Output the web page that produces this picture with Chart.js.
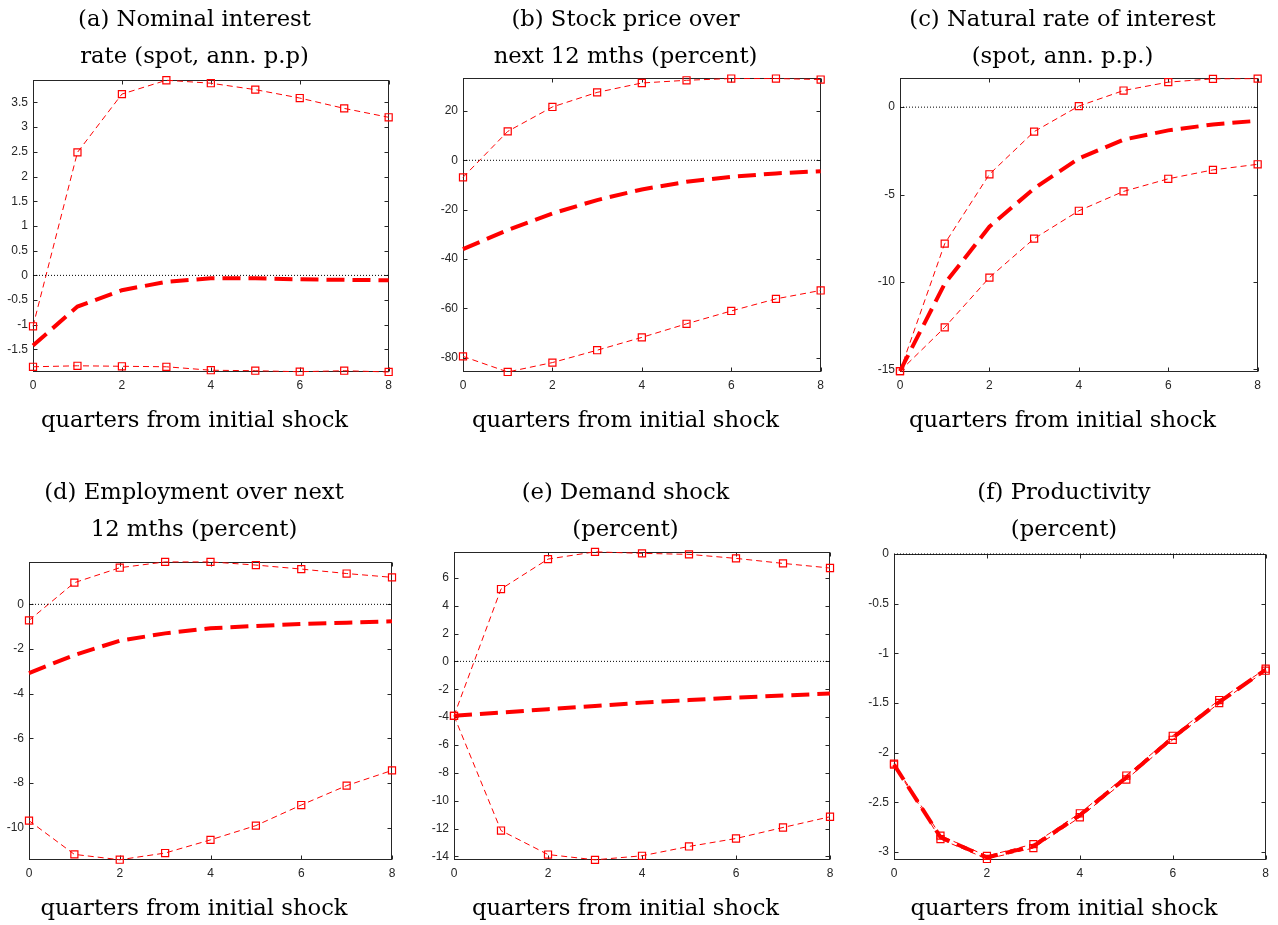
<!DOCTYPE html>
<html>
<head>
<meta charset="utf-8">
<title>Impulse responses</title>
<script src="https://cdn.jsdelivr.net/npm/chart.js@4.4.1/dist/chart.umd.min.js"></script>
<style>
  html, body { margin: 0; padding: 0; background: #fff; overflow: hidden; }
  body { width: 1278px; height: 925px; position: relative; }
  canvas { position: absolute; }
</style>
</head>
<body>
<canvas id="chartA"></canvas>
<canvas id="chartB"></canvas>
<canvas id="chartC"></canvas>
<canvas id="chartD"></canvas>
<canvas id="chartE"></canvas>
<canvas id="chartF"></canvas>
<script>
// quarters after the shock (x axis)
const quarters = [0, 1, 2, 3, 4, 5, 6, 7, 8];
const xTicks = [0, 2, 4, 6, 8];

// (a) nominal interest rate
const aUpper  = [-1.03, 2.49, 3.67, 3.95, 3.89, 3.76, 3.59, 3.38, 3.20];
const aMedian = [-1.42, -0.63, -0.30, -0.13, -0.06, -0.06, -0.08, -0.09, -0.10];
const aLower  = [-1.85, -1.83, -1.84, -1.85, -1.92, -1.93, -1.95, -1.93, -1.955];
const aTicks  = [-1.5, -1, -0.5, 0, 0.5, 1, 1.5, 2, 2.5, 3, 3.5];

// (b) stock price
const bUpper  = [-6.9, 11.7, 21.6, 27.5, 31.3, 32.4, 33.1, 33.1, 32.7];
const bMedian = [-36.0, -28.2, -21.5, -16.1, -11.8, -8.7, -6.7, -5.3, -4.4];
const bLower  = [-79.4, -85.7, -81.9, -76.9, -71.7, -66.2, -61.0, -56.1, -52.7];
const bTicks  = [-80, -60, -40, -20, 0, 20];

// (c) natural rate of interest
const cUpper  = [-15.1, -7.81, -3.84, -1.40, 0.06, 0.95, 1.43, 1.62, 1.63];
const cMedian = [-15.1, -10.1, -6.84, -4.65, -2.94, -1.86, -1.33, -0.99, -0.78];
const cLower  = [-15.1, -12.6, -9.75, -7.52, -5.93, -4.82, -4.10, -3.59, -3.27];
const cTicks  = [-15, -10, -5, 0];

// (d) employment
const dUpper  = [-0.72, 0.97, 1.64, 1.90, 1.90, 1.76, 1.58, 1.38, 1.21];
const dMedian = [-3.08, -2.27, -1.63, -1.30, -1.07, -0.97, -0.88, -0.82, -0.76];
const dLower  = [-9.69, -11.2, -11.44, -11.14, -10.55, -9.91, -8.99, -8.12, -7.44];
const dTicks  = [-10, -8, -6, -4, -2, 0];

// (e) demand shock
const eUpper  = [-3.91, 5.19, 7.34, 7.86, 7.75, 7.68, 7.39, 7.03, 6.70];
const eMedian = [-3.91, -3.67, -3.43, -3.20, -2.96, -2.78, -2.60, -2.45, -2.31];
const eLower  = [-3.91, -12.14, -13.86, -14.24, -13.95, -13.28, -12.71, -11.92, -11.15];
const eTicks  = [-14, -12, -10, -8, -6, -4, -2, 0, 2, 4, 6];

// (f) productivity
const fUpper  = [-2.11, -2.835, -3.04, -2.92, -2.61, -2.23, -1.83, -1.47, -1.155];
const fMedian = [-2.12, -2.85, -3.055, -2.94, -2.63, -2.25, -1.85, -1.49, -1.165];
const fLower  = [-2.12, -2.87, -3.07, -2.96, -2.65, -2.27, -1.87, -1.50, -1.175];
const fTicks  = [-3, -2.5, -2, -1.5, -1, -0.5, 0];

const xLabel = 'quarters from initial shock';

const panels = [
  { id: 'chartA', title: ['(a) Nominal interest', 'rate (spot, ann. p.p)'],
    upper: aUpper, median: aMedian, lower: aLower, ticks: aTicks, min: -1.955, max: 3.955,
    left: 0, top: 0, width: 399, height: 437, right: 10, titleGap: 5 },
  { id: 'chartB', title: ['(b) Stock price over', 'next 12 mths (percent)'],
    upper: bUpper, median: bMedian, lower: bLower, ticks: bTicks, min: -85.7, max: 33.2,
    left: 430, top: 0, width: 401, height: 437, right: 10, titleGap: 3.3 },
  { id: 'chartC', title: ['(c) Natural rate of interest', '(spot, ann. p.p.)'],
    upper: cUpper, median: cMedian, lower: cLower, ticks: cTicks, min: -15.15, max: 1.65,
    left: 867, top: 0, width: 401, height: 437, right: 10, titleGap: 3.3 },
  { id: 'chartD', title: ['(d) Employment over next', '12 mths (percent)'],
    upper: dUpper, median: dMedian, lower: dLower, ticks: dTicks, min: -11.45, max: 1.91,
    left: -4, top: 473, width: 409, height: 452, right: 13, titleGap: 13.7 },
  { id: 'chartE', title: ['(e) Demand shock', '(percent)'],
    upper: eUpper, median: eMedian, lower: eLower, ticks: eTicks, min: -14.25, max: 7.87,
    left: 421, top: 473, width: 420, height: 452, right: 11, titleGap: 3.7 },
  { id: 'chartF', title: ['(f) Productivity', '(percent)'],
    upper: fUpper, median: fMedian, lower: fLower, ticks: fTicks, min: -3.08, max: 0,
    left: 861, top: 473, width: 415, height: 452, right: 9, titleGap: 6 }
];

const axisColor = '#262626';
const serif = "'DejaVu Serif', 'Liberation Serif', serif";
const sans = "'Liberation Sans', Arial, sans-serif";

// box round the axes with short inward tick marks, as in the original figure
const framePlugin = {
  id: 'frame',
  beforeDatasetsDraw(chart) {
    const { ctx, chartArea: a, scales: { x, y } } = chart;
    const l = Math.round(a.left) + 0.5, r = Math.round(a.right) - 0.5;
    const t = Math.round(a.top) + 0.5, b = Math.round(a.bottom) - 0.5;
    ctx.save();
    ctx.strokeStyle = axisColor;
    ctx.lineWidth = 1;
    ctx.strokeRect(l, t, r - l, b - t);
    ctx.beginPath();
    y.ticks.forEach(tk => {
      const py = Math.round(y.getPixelForValue(tk.value)) + 0.5;
      ctx.moveTo(l, py); ctx.lineTo(l + 4, py);
      ctx.moveTo(r, py); ctx.lineTo(r - 4, py);
    });
    x.ticks.forEach(tk => {
      const px = Math.round(x.getPixelForValue(tk.value)) + 0.5;
      ctx.moveTo(px, b); ctx.lineTo(px, b - 4);
      ctx.moveTo(px, t); ctx.lineTo(px, t + 4);
    });
    ctx.stroke();
    ctx.restore();
  }
};

function points(values) {
  return values.map((v, i) => ({ x: quarters[i], y: v }));
}

function boundSet(values) {
  return {
    data: points(values),
    borderColor: '#ff0000',
    borderWidth: 1,
    borderDash: [6, 4],
    pointStyle: 'rect',
    pointRadius: 5,
    pointBorderWidth: 1.2,
    pointBorderColor: '#ff0000',
    pointBackgroundColor: 'rgba(0,0,0,0)',
    tension: 0,
    clip: false
  };
}

panels.forEach(p => {
  const canvas = document.getElementById(p.id);
  canvas.width = p.width;
  canvas.height = p.height;
  canvas.style.left = p.left + 'px';
  canvas.style.top = p.top + 'px';
  canvas.style.width = p.width + 'px';
  canvas.style.height = p.height + 'px';

  new Chart(canvas.getContext('2d'), {
    type: 'line',
    data: {
      datasets: [
        {
          data: points(quarters.map(() => 0)),
          borderColor: '#000000',
          borderWidth: 1,
          borderDash: [1, 2],
          pointRadius: 0,
          clip: false
        },
        boundSet(p.upper),
        boundSet(p.lower),
        {
          data: points(p.median),
          borderColor: '#ff0000',
          borderWidth: 4,
          borderDash: [18, 8],
          pointRadius: 0,
          tension: 0,
          clip: false
        }
      ]
    },
    options: {
      responsive: false,
      animation: false,
      devicePixelRatio: 1,
      layout: { padding: { left: 0, right: p.right, top: 0, bottom: 0 } },
      plugins: {
        legend: { display: false },
        tooltip: { enabled: false },
        title: {
          display: true,
          text: p.title,
          color: '#000000',
          font: { family: serif, size: 22.7, weight: 'normal', lineHeight: 36.5 / 22.7 },
          padding: { top: 2, bottom: p.titleGap }
        },
        subtitle: {
          display: true,
          position: 'bottom',
          text: xLabel,
          color: '#000000',
          font: { family: serif, size: 22.7, weight: 'normal', lineHeight: 1.2 },
          padding: { top: 13.8, bottom: 2 }
        }
      },
      scales: {
        x: {
          type: 'linear',
          min: 0,
          max: 8,
          grid: { display: false, drawTicks: false },
          border: { display: false },
          afterFit: s => { s.height = 22; },
          afterBuildTicks: s => { s.ticks = xTicks.map(v => ({ value: v })); },
          ticks: {
            color: axisColor,
            font: { family: sans, size: 12 },
            padding: 7,
            maxRotation: 0,
            callback: v => String(v)
          }
        },
        y: {
          type: 'linear',
          min: p.min,
          max: p.max,
          grid: { display: false, drawTicks: false },
          border: { display: false },
          afterFit: s => { s.width = 33; },
          afterBuildTicks: s => { s.ticks = p.ticks.map(v => ({ value: v })); },
          ticks: {
            color: axisColor,
            font: { family: sans, size: 12 },
            padding: 5,
            callback: v => String(v)
          }
        }
      }
    },
    plugins: [framePlugin]
  });
});
</script>
</body>
</html>
